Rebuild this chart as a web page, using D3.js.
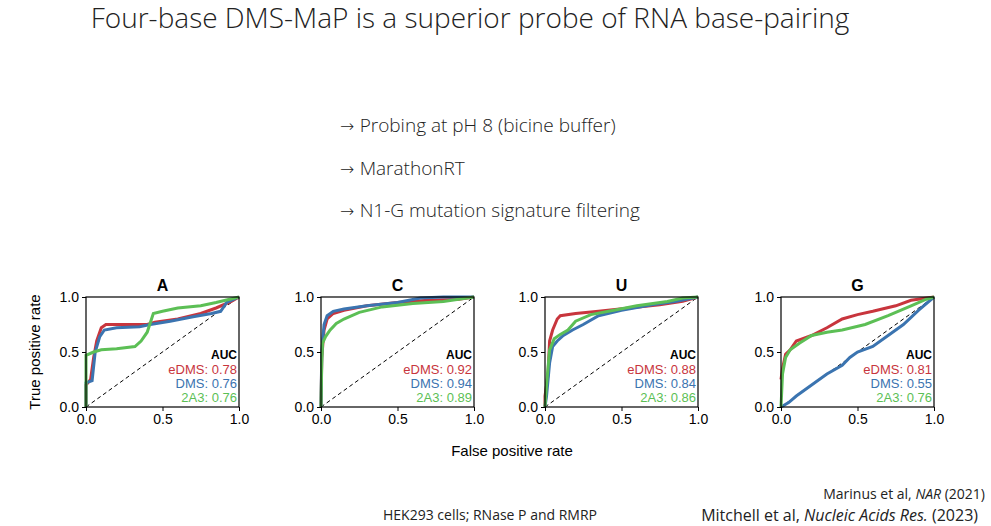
<!DOCTYPE html>
<html>
<head>
<script src="https://d3js.org/d3.v7.min.js" charset="utf-8"></script>
<style>
  body { margin: 0; background: #fff; }
  .slide { font-family: "Open Sans", "Noto Sans", sans-serif; fill: #222; }
  .plot { font-family: "Liberation Sans", Arial, sans-serif; }
  .axis path, .axis line { stroke: #000; }
</style>
</head>
<body>
<script>

var W = 991, H = 526;

var panels = ["A", "C", "U", "G"];
var panelLeft = [86, 321, 545, 781];
var seriesNames = ["eDMS", "DMS", "2A3"];
var seriesColors = ["#c8353d", "#3b74b0", "#5cbf55"];
var ticks = [0, 0.5, 1];

// AUC per panel, in series order
var aucA = [0.78, 0.76, 0.76];
var aucC = [0.92, 0.94, 0.89];
var aucU = [0.88, 0.84, 0.86];
var aucG = [0.81, 0.55, 0.76];

// ROC curves, [false positive rate, true positive rate]
var eDmsA = [[0,0],[0,0.2],[0.03,0.25],[0.05,0.45],[0.07,0.6],[0.1,0.72],[0.13,0.75],[0.3,0.75],[0.4,0.75],[0.45,0.77],[0.6,0.8],[0.75,0.85],[0.85,0.9],[0.95,0.96],[1,1]];
var dmsA  = [[0,0],[0,0.22],[0.04,0.24],[0.06,0.5],[0.09,0.64],[0.12,0.7],[0.2,0.72],[0.35,0.73],[0.42,0.75],[0.55,0.78],[0.7,0.82],[0.82,0.85],[0.88,0.87],[0.92,0.95],[1,1]];
var a3A   = [[0,0],[0,0.47],[0.05,0.5],[0.1,0.52],[0.2,0.53],[0.32,0.55],[0.36,0.6],[0.4,0.68],[0.44,0.85],[0.5,0.87],[0.6,0.9],[0.75,0.92],[0.85,0.95],[1,1]];
var eDmsC = [[0,0],[0.005,0.45],[0.02,0.7],[0.04,0.8],[0.08,0.85],[0.15,0.88],[0.3,0.92],[0.5,0.95],[0.7,0.97],[0.9,0.98],[1,1]];
var dmsC  = [[0,0],[0.005,0.5],[0.02,0.75],[0.04,0.83],[0.08,0.87],[0.15,0.89],[0.3,0.92],[0.5,0.95],[0.65,0.99],[0.8,1],[1,1]];
var a3C   = [[0,0],[0.005,0.4],[0.01,0.58],[0.03,0.64],[0.06,0.7],[0.1,0.76],[0.15,0.8],[0.25,0.86],[0.4,0.91],[0.6,0.94],[0.8,0.96],[0.9,0.98],[1,1]];
var eDmsU = [[0,0],[0,0.1],[0.02,0.3],[0.03,0.6],[0.05,0.7],[0.08,0.8],[0.1,0.83],[0.2,0.85],[0.35,0.87],[0.55,0.9],[0.75,0.93],[0.9,0.96],[1,1]];
var dmsU  = [[0,0],[0.01,0.1],[0.03,0.4],[0.05,0.55],[0.08,0.6],[0.12,0.65],[0.18,0.7],[0.25,0.75],[0.35,0.83],[0.5,0.88],[0.7,0.93],[0.85,0.96],[1,1]];
var a3U   = [[0,0],[0.01,0.2],[0.03,0.52],[0.06,0.62],[0.1,0.66],[0.15,0.7],[0.2,0.78],[0.3,0.84],[0.45,0.88],[0.6,0.92],[0.8,0.96],[0.9,0.99],[1,1]];
var eDmsG = [[0,0.25],[0.01,0.35],[0.03,0.48],[0.06,0.52],[0.1,0.6],[0.2,0.65],[0.3,0.72],[0.4,0.8],[0.5,0.84],[0.6,0.87],[0.75,0.92],[0.85,0.97],[1,1]];
var dmsG  = [[0,0],[0.05,0.04],[0.1,0.1],[0.2,0.2],[0.3,0.3],[0.4,0.38],[0.45,0.45],[0.5,0.5],[0.6,0.55],[0.7,0.65],[0.8,0.75],[0.9,0.88],[1,1]];
var a3G   = [[0,0],[0.01,0.3],[0.03,0.45],[0.06,0.52],[0.12,0.58],[0.2,0.65],[0.3,0.68],[0.4,0.7],[0.55,0.75],[0.7,0.83],[0.85,0.92],[0.95,0.98],[1,1]];

var curves = [[eDmsA, dmsA, a3A], [eDmsC, dmsC, a3C], [eDmsU, dmsU, a3U], [eDmsG, dmsG, a3G]];
var aucs = [aucA, aucC, aucU, aucG];

var svg = d3.select("body").append("svg").attr("width", W).attr("height", H);

// slide text
svg.append("text").attr("class", "slide")
    .attr("x", 470).attr("y", 28).attr("text-anchor", "middle")
    .attr("font-size", 28).attr("font-weight", 300)
    .text("Four-base DMS-MaP is a superior probe of RNA base-pairing");

var bullets = ["Probing at pH 8 (bicine buffer)", "MarathonRT", "N1-G mutation signature filtering"];
var bt = svg.selectAll(".bullet").data(bullets).enter().append("text")
    .attr("class", "slide bullet")
    .attr("x", 340).attr("y", function(d, i) { return 132 + i * 42.5; })
    .attr("font-size", 19).attr("font-weight", 300);
bt.append("tspan").attr("font-family", "DejaVu Sans").attr("font-size", 17).text("\u2192 ");
bt.append("tspan").text(function(d) { return d; });

svg.append("text").attr("class", "slide")
    .attr("x", 490).attr("y", 520).attr("text-anchor", "middle").attr("font-size", 14)
    .text("HEK293 cells; RNase P and RMRP");
svg.append("text").attr("class", "slide")
    .attr("x", 985).attr("y", 499).attr("text-anchor", "end").attr("font-size", 14)
    .html("Marinus et al, <tspan font-style='italic'>NAR</tspan> (2021)");
svg.append("text").attr("class", "slide")
    .attr("x", 978).attr("y", 521).attr("text-anchor", "end").attr("font-size", 16)
    .html("Mitchell et al, <tspan font-style='italic'>Nucleic Acids Res.</tspan> (2023)");

// plots
var pw = 153, ph = 110, plotTop = 297;
var x = d3.scaleLinear().domain([0, 1]).range([0, pw]);
var y = d3.scaleLinear().domain([0, 1]).range([ph, 0]);
var line = d3.line().x(function(d) { return x(d[0]); }).y(function(d) { return y(d[1]); });
var fmt = d3.format(".1f");

panels.forEach(function(name, p) {
    var g = svg.append("g").attr("class", "plot")
        .attr("transform", "translate(" + panelLeft[p] + "," + plotTop + ")");

    g.append("line").attr("x1", x(0)).attr("y1", y(0)).attr("x2", x(1)).attr("y2", y(1))
        .attr("stroke", "#000").attr("stroke-dasharray", "4,3").attr("stroke-width", 1);

    g.selectAll(".curve").data(curves[p]).enter().append("path")
        .attr("fill", "none")
        .attr("stroke", function(d, i) { return seriesColors[i]; })
        .attr("stroke-width", 3)
        .attr("d", line);

    g.append("rect").attr("width", pw).attr("height", ph)
        .attr("fill", "none").attr("stroke", "#000").attr("stroke-width", 1.2);

    g.append("g").attr("class", "axis").attr("transform", "translate(0," + ph + ")")
        .call(d3.axisBottom(x).tickValues(ticks).tickFormat(fmt).tickSize(4).tickPadding(3))
        .call(function(a) { a.selectAll("text").attr("font-size", 14).attr("fill", "#000"); a.select(".domain").remove(); });
    g.append("g").attr("class", "axis")
        .call(d3.axisLeft(y).tickValues(ticks).tickFormat(fmt).tickSize(4).tickPadding(3))
        .call(function(a) { a.selectAll("text").attr("font-size", 14).attr("fill", "#000"); a.select(".domain").remove(); });

    g.append("text").attr("x", pw / 2).attr("y", -6).attr("text-anchor", "middle")
        .attr("font-size", 16).attr("font-weight", "bold").text(name);

    g.append("text").attr("x", pw - 2).attr("y", 62).attr("text-anchor", "end")
        .attr("font-size", 12).attr("font-weight", "bold").text("AUC");
    g.selectAll(".auc").data(aucs[p]).enter().append("text")
        .attr("x", pw - 2).attr("y", function(d, i) { return 77 + i * 14; })
        .attr("text-anchor", "end").attr("font-size", 13)
        .attr("fill", function(d, i) { return seriesColors[i]; })
        .text(function(d, i) { return seriesNames[i] + ": " + d.toFixed(2); });
});

svg.append("text").attr("class", "plot")
    .attr("transform", "translate(40," + (plotTop + ph / 2) + ") rotate(-90)")
    .attr("text-anchor", "middle").attr("font-size", 15).text("True positive rate");
svg.append("text").attr("class", "plot")
    .attr("x", 512).attr("y", 456).attr("text-anchor", "middle").attr("font-size", 15)
    .text("False positive rate");

</script>
</body>
</html>
